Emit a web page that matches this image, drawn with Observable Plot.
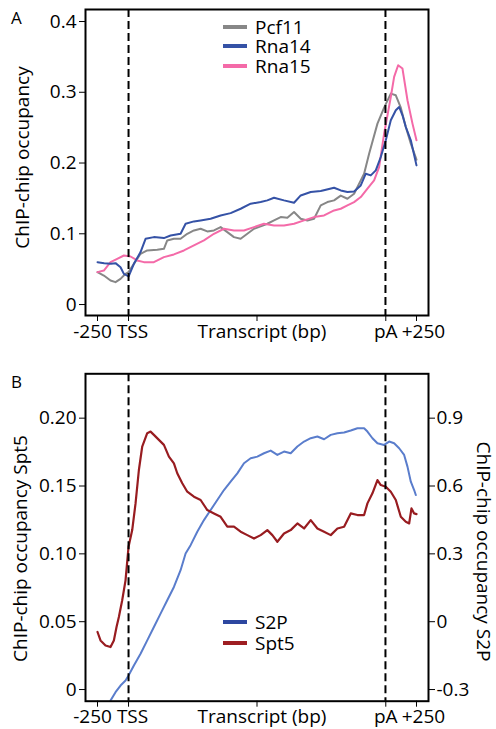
<!DOCTYPE html>
<html>
<head>
<meta charset="utf-8">
<script src="https://cdn.jsdelivr.net/npm/d3@7"></script>
<script src="https://cdn.jsdelivr.net/npm/@observablehq/plot@0.6"></script>
<style>
  html, body { margin: 0; padding: 0; background: white; }
  #wrap { position: relative; width: 496px; height: 729px; font-family: 'Open Sans', sans-serif; color: black; }
  #wrap svg { display: block; }
  .panel { position: absolute; font-size: 17px; line-height: 17px; }
  .legend { position: absolute; font-size: 19px; line-height: 18px; }
  .legend .row { display: flex; align-items: center; }
  .legend .swatch { width: 24px; height: 4px; margin-right: 8px; }
</style>
</head>
<body>
<div id="wrap">
  <div id="a"></div>
  <div id="b"></div>
</div>
<script>
// ---------- shared x axis (metagene position units) ----------
const xTicks = [0, 93, 478, 864, 956];
const xTickLabels = ["-250", "TSS", "Transcript (bp)", "pA", "+250"];
const markerLines = [93, 863]; // TSS, pA

// ---------- Panel A ----------
const yTicksA = [0, 0.1, 0.2, 0.3, 0.4];
const yTickLabelsA = ["0", "0.1", "0.2", "0.3", "0.4"];
const seriesA = ["Pcf11", "Rna14", "Rna15"];

const pcf11 = [
  [0,0.0458],[19,0.0410],[39,0.0340],[54,0.0316],[69,0.0363],[84,0.0434],[93,0.0458],
  [109,0.0575],[129,0.0717],[149,0.0764],[179,0.0774],[199,0.0788],[209,0.0906],[229,0.0929],
  [249,0.0929],[269,0.1000],[289,0.1047],[309,0.1071],[329,0.1033],[349,0.1047],[369,0.1094],
  [389,0.1024],[409,0.0953],[429,0.0929],[449,0.1000],[469,0.1071],[489,0.1104],[509,0.1142],
  [529,0.1189],[549,0.1236],[569,0.1226],[589,0.1307],[609,0.1212],[629,0.1189],[649,0.1212],
  [669,0.1401],[689,0.1448],[709,0.1472],[729,0.1540],[749,0.1495],[769,0.1566],[789,0.1755],
  [799,0.1849],[814,0.2132],[839,0.2557],[859,0.2783],[879,0.2981],[894,0.2958],[909,0.2783],
  [924,0.2509],[939,0.2274],[956,0.2047]
];
const rna14 = [
  [0,0.0599],[20,0.0585],[40,0.0575],[54,0.0585],[69,0.0528],[79,0.0434],[89,0.0410],[93,0.0396],
  [109,0.0575],[129,0.0741],[144,0.0929],[169,0.0953],[199,0.0939],[219,0.0976],[249,0.1000],
  [264,0.1142],[289,0.1175],[309,0.1189],[339,0.1212],[369,0.1259],[399,0.1292],[429,0.1354],
  [459,0.1425],[489,0.1448],[509,0.1472],[529,0.1509],[559,0.1472],[589,0.1439],[609,0.1542],
  [639,0.1590],[669,0.1604],[709,0.1651],[729,0.1613],[749,0.1590],[769,0.1599],[789,0.1684],
  [804,0.1849],[819,0.1825],[834,0.1896],[849,0.2085],[864,0.2321],[879,0.2604],[894,0.2745],
  [904,0.2792],[914,0.2675],[924,0.2509],[939,0.2321],[956,0.1967]
];
const rna15 = [
  [0,0.0458],[19,0.0481],[39,0.0599],[59,0.0646],[79,0.0693],[99,0.0679],[119,0.0623],
  [139,0.0599],[169,0.0599],[199,0.0670],[229,0.0708],[259,0.0764],[289,0.0835],[319,0.0906],
  [349,0.1000],[379,0.1071],[409,0.1047],[439,0.1047],[469,0.1094],[499,0.1142],[529,0.1118],
  [559,0.1118],[589,0.1142],[619,0.1189],[649,0.1236],[679,0.1259],[709,0.1330],[729,0.1354],
  [749,0.1401],[769,0.1448],[789,0.1519],[809,0.1637],[829,0.1755],[844,0.1943],[859,0.2415],
  [879,0.2934],[889,0.3217],[901,0.3382],[914,0.3335],[929,0.2887],[944,0.2557],[956,0.2321]
];
const colorsA = ["#878787", "#3552a6", "#f46aa8"];

// ---------- Panel B ----------
const yTicksSpt5 = [0, 0.05, 0.10, 0.15, 0.20];
const yTickLabelsSpt5 = ["0", "0.05", "0.10", "0.15", "0.20"];
const yTicksS2P = [-0.3, 0, 0.3, 0.6, 0.9];
const yTickLabelsS2P = ["-0.3", "0", "0.3", "0.6", "0.9"];
const seriesB = ["S2P", "Spt5"];

const spt5 = [
  [0,0.0424],[9,0.0362],[24,0.0325],[39,0.0313],[49,0.0362],[57,0.0461],[64,0.0534],[74,0.0658],
  [84,0.0805],[93,0.1052],[104,0.1175],[114,0.1372],[124,0.1618],[134,0.1791],[149,0.1889],
  [159,0.1901],[169,0.1877],[184,0.1840],[199,0.1803],[214,0.1717],[229,0.1667],[239,0.1594],
  [254,0.1520],[269,0.1458],[289,0.1421],[309,0.1397],[329,0.1323],[349,0.1298],[369,0.1273],
  [389,0.1200],[409,0.1200],[429,0.1163],[449,0.1138],[469,0.1113],[489,0.1138],[509,0.1175],
  [524,0.1138],[539,0.1089],[559,0.1150],[579,0.1175],[599,0.1224],[619,0.1187],[639,0.1249],
  [659,0.1187],[679,0.1163],[699,0.1138],[719,0.1187],[739,0.1200],[759,0.1298],[779,0.1286],
  [799,0.1286],[809,0.1372],[824,0.1446],[839,0.1544],[849,0.1507],[864,0.1495],[879,0.1458],
  [894,0.1397],[909,0.1273],[924,0.1236],[934,0.1224],[941,0.1335],[949,0.1298],[956,0.1293]
];
const s2p = [
  [39,-0.3488],[54,-0.3118],[69,-0.2823],[84,-0.2601],[93,-0.2379],[109,-0.1936],[129,-0.1419],
  [149,-0.0828],[169,-0.0236],[189,0.0355],[209,0.0946],[229,0.1537],[249,0.2276],[264,0.3015],
  [279,0.3384],[299,0.3975],[319,0.4492],[339,0.4936],[359,0.5379],[379,0.5822],[399,0.6192],
  [419,0.6561],[439,0.7005],[459,0.7226],[479,0.7300],[499,0.7448],[519,0.7566],[539,0.7374],
  [559,0.7522],[579,0.7448],[599,0.7744],[619,0.7965],[639,0.8113],[659,0.8187],[679,0.8069],
  [699,0.8261],[719,0.8335],[739,0.8364],[759,0.8453],[779,0.8556],[799,0.8556],[809,0.8409],
  [824,0.8113],[839,0.7891],[859,0.7817],[874,0.7965],[889,0.7891],[904,0.7670],[919,0.7374],
  [929,0.6857],[939,0.6192],[949,0.5822],[954,0.5601]
];
const colorS2PLine = "#5a7dcc";
const colorsBLegend = ["#2d47a0", "#9e1e22"];
const colorSpt5Line = "#981c20";

// S2P axis is tied to Spt5 axis: s2p = 6 * spt5 - 0.3
const toLeft = v => (v + 0.3) / 6;

const style = {fontFamily: "'Open Sans', sans-serif", fontSize: "19px", color: "black", background: "white", overflow: "visible"};
const labelDx = [-5, 4, 5, 0, 7];

function xLabelMarks(dy) {
  return xTicks.map((t, i) => Plot.text([t], {
    x: d => d, text: [xTickLabels[i]], frameAnchor: "bottom", lineAnchor: "top", textAnchor: "middle", dy, dx: labelDx[i]
  }));
}

const plotA = Plot.plot({
  width: 496, height: 360,
  marginTop: 9, marginBottom: 45, marginLeft: 85, marginRight: 68,
  x: {domain: [-36, 992], axis: null},
  y: {domain: [-0.0155, 0.417], axis: null},
  style,
  marks: [
    Plot.line(pcf11, {x: d => d[0], y: d => d[1], stroke: colorsA[0], strokeWidth: 2}),
    Plot.line(rna15, {x: d => d[0], y: d => d[1], stroke: colorsA[2], strokeWidth: 2}),
    Plot.line(rna14, {x: d => d[0], y: d => d[1], stroke: colorsA[1], strokeWidth: 2}),
    Plot.ruleX(markerLines, {stroke: "black", strokeWidth: 2, strokeDasharray: "8,4"}),
    Plot.frame({stroke: "black", strokeWidth: 2}),
    Plot.axisY(yTicksA, {anchor: "left", tickSize: 6, tickPadding: 3, label: null,
      tickFormat: d => yTickLabelsA[yTicksA.indexOf(d)]}),
    Plot.axisX(xTicks, {anchor: "bottom", tickSize: 6, label: null, tickFormat: () => ""}),
    ...xLabelMarks(9),
    Plot.text(["ChIP-chip occupancy"], {frameAnchor: "left", rotate: -90, dx: -63, dy: -5, lineAnchor: "middle", textAnchor: "middle"})
  ]
});
document.getElementById("a").appendChild(plotA);

const plotB = Plot.plot({
  width: 496, height: 369,
  marginTop: 13.3, marginBottom: 28.3, marginLeft: 85, marginRight: 68,
  x: {domain: [-36, 992], axis: null},
  y: {domain: [-0.0086, 0.2327], axis: null},
  style,
  marks: [
    Plot.line(s2p, {x: d => d[0], y: d => toLeft(d[1]), stroke: colorS2PLine, strokeWidth: 2, clip: true}),
    Plot.line(spt5, {x: d => d[0], y: d => d[1], stroke: colorSpt5Line, strokeWidth: 2.2, clip: true}),
    Plot.ruleX(markerLines, {stroke: "black", strokeWidth: 2, strokeDasharray: "8,4"}),
    Plot.frame({stroke: "black", strokeWidth: 2}),
    Plot.axisY(yTicksSpt5, {anchor: "left", tickSize: 6, tickPadding: 3, label: null,
      tickFormat: d => yTickLabelsSpt5[yTicksSpt5.indexOf(d)]}),
    Plot.axisY(yTicksS2P.map(toLeft), {anchor: "right", tickSize: 6, tickPadding: 2, label: null,
      tickFormat: (d, i) => yTickLabelsS2P[i]}),
    Plot.axisX(xTicks, {anchor: "bottom", tickSize: 6, label: null, tickFormat: () => ""}),
    ...xLabelMarks(8),
    Plot.text(["ChIP-chip occupancy Spt5"], {frameAnchor: "left", rotate: -90, dx: -65, dy: 11, lineAnchor: "middle", textAnchor: "middle"}),
    Plot.text(["ChIP-chip occupancy S2P"], {frameAnchor: "right", rotate: 90, dx: 55, dy: 14, lineAnchor: "middle", textAnchor: "middle"})
  ]
});
document.getElementById("b").appendChild(plotB);

// ---------- overlays: panel letters and legends ----------
const wrap = document.getElementById("wrap");
function addDiv(cls, left, top, html) {
  const d = document.createElement("div");
  d.className = cls; d.style.left = left + "px"; d.style.top = top + "px"; d.innerHTML = html;
  wrap.appendChild(d); return d;
}
addDiv("panel", 11, 9, "A");
addDiv("panel", 11, 373, "B");
function legend(left, top, names, colors, rowH) {
  const d = addDiv("legend", left, top, "");
  names.forEach((n, i) => {
    const r = document.createElement("div");
    r.className = "row"; r.style.height = rowH + "px";
    r.innerHTML = `<span class="swatch" style="background:${colors[i]}"></span><span>${n}</span>`;
    d.appendChild(r);
  });
}
legend(223, 17, seriesA, colorsA, 19.5);
legend(223, 611, seriesB, colorsBLegend, 21.5);
</script>
</body>
</html>
